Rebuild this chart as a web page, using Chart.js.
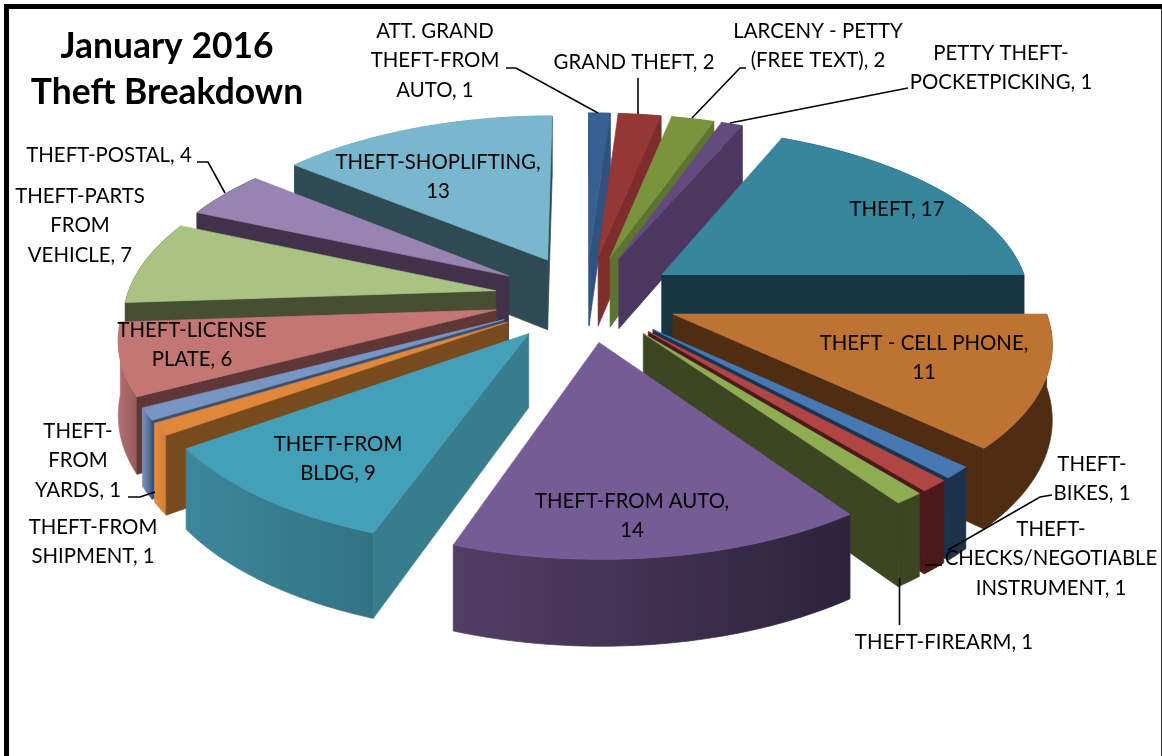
<!DOCTYPE html>
<html>
<head>
<meta charset="utf-8">
<title>January 2016 Theft Breakdown</title>
<script src="https://cdn.jsdelivr.net/npm/chart.js@4"></script>
<style>
  html, body { margin: 0; padding: 0; background: #fff; }
  canvas { display: block; }
</style>
</head>
<body>
<canvas id="theftChart" width="1162" height="756"></canvas>
<script>
const categories = [
  "ATT. GRAND THEFT-FROM AUTO", "GRAND THEFT", "LARCENY - PETTY (FREE TEXT)", "PETTY THEFT-POCKETPICKING",
  "THEFT", "THEFT - CELL PHONE", "THEFT-BIKES", "THEFT-CHECKS/NEGOTIABLE INSTRUMENT", "THEFT-FIREARM",
  "THEFT-FROM AUTO", "THEFT-FROM BLDG", "THEFT-FROM SHIPMENT", "THEFT-FROM YARDS", "THEFT-LICENSE PLATE",
  "THEFT-PARTS FROM VEHICLE", "THEFT-POSTAL", "THEFT-SHOPLIFTING"
];
const counts = [1, 2, 2, 1, 17, 11, 1, 1, 1, 14, 9, 1, 1, 6, 7, 4, 13];

// how each label wraps, the count goes on the end of the last line
const labelLines = [
  ["ATT. GRAND", "THEFT-FROM", "AUTO, "], ["GRAND THEFT, "], ["LARCENY - PETTY", "(FREE TEXT), "],
  ["PETTY THEFT-", "POCKETPICKING, "], ["THEFT, "], ["THEFT - CELL PHONE,", ""], ["THEFT-", "BIKES, "],
  ["THEFT-", "CHECKS/NEGOTIABLE", "INSTRUMENT, "], ["THEFT-FIREARM, "], ["THEFT-FROM AUTO,", ""],
  ["THEFT-FROM", "BLDG, "], ["THEFT-FROM", "SHIPMENT, "], ["THEFT-", "FROM", "YARDS, "],
  ["THEFT-LICENSE", "PLATE, "], ["THEFT-PARTS", "FROM", "VEHICLE, "], ["THEFT-POSTAL, "], ["THEFT-SHOPLIFTING,", ""]
];
const titleLines = ["January 2016", "Theft Breakdown"];

const topColors = ["#376092", "#953735", "#7a943e", "#644b7d", "#38859e", "#be7332", "#4678b4", "#b04644", "#8eac52",
  "#765c96", "#44a0b9", "#e1873c", "#7896c3", "#c37673", "#aac382", "#9884b2", "#78b7cd"];
const sideColors = ["#30527d", "#7d2d2b", "#5c7332", "#4b375f", "#163642", "#4e2d12", "#1c324b", "#4b1919", "#3c4620",
  "#3e3050", "#377d8c", "#784b1e", "#3c506e", "#5f3737", "#484e32", "#41324a", "#2f4a52"];
const rimLeft = ["#30527d", "#7d2d2b", "#5c7332", "#4b375f", "#163642", "#4e2d12", "#1c324b", "#4b1919", "#3c4620",
  "#523e66", "#3c879b", "#e68a3c", "#7894be", "#b47070", "#484e32", "#41324a", "#78b7cd"];
const rimRight = ["#30527d", "#7d2d2b", "#5c7332", "#4b375f", "#163642", "#4e2d12", "#1c324b", "#4b1919", "#3c4620",
  "#2d233c", "#327382", "#d27d37", "#465f82", "#965a5a", "#484e32", "#41324a", "#5a8ea0"];

// label placement: centre x, y of first line
const labelX = [435, 634, 818, 1001, 897, 924, 1092, 1051, 944, 632, 338, 93, 78, 192, 80, 109, 438];
const labelY = [31, 62, 31, 53, 209, 343, 464, 529, 642, 501, 444, 527, 431, 330, 196, 155, 162];
const leaderLines = [
  [[506, 68], [516, 68], [598, 113]],
  [[638, 78], [638, 114]],
  [[746, 68], [740, 68], [692, 118]],
  [[908, 88], [730, 123]],
  [[197, 162], [208, 162], [225, 193]],
  [[1052, 495], [1040, 497], [948, 550]],
  [[925, 565], [942, 565]],
  [[899.5, 578], [899.5, 625]],
  [[128, 497], [140, 497], [155, 492]]
];

// camera used to lay the pie on its side
const view = { cx: 586, cy: 298, sx: 369, sy: 173.5, persp: 0.1376, depth: 72 };

function project(u, v, z) {
  const w = 1 - view.persp * v;
  return [view.cx + view.sx * u / w, view.cy + (view.sy * v + view.depth * z) / w];
}

function fillPoly(ctx, pts, fill) {
  ctx.beginPath();
  pts.forEach((p, i) => i ? ctx.lineTo(p[0], p[1]) : ctx.moveTo(p[0], p[1]));
  ctx.closePath();
  ctx.fillStyle = fill;
  ctx.fill();
  // thin stroke in the same colour so no seam shows between faces
  ctx.strokeStyle = fill;
  ctx.lineWidth = 0.7;
  ctx.stroke();
}

function signedArea(pts) {
  let a = 0;
  pts.forEach((p, i) => {
    const q = pts[(i + 1) % pts.length];
    a += p[0] * q[1] - q[0] * p[1];
  });
  return a / 2;
}

const pie3d = {
  id: "pie3d",
  beforeDatasetsDraw(chart) {
    const ctx = chart.ctx;
    const arcs = chart.getDatasetMeta(0).data;
    const slices = arcs.map((arc, i) => {
      const mid = (arc.startAngle + arc.endAngle) / 2;
      const ex = arc.options.offset / arc.outerRadius;
      return { i, arc, ou: ex * Math.cos(mid), ov: ex * Math.sin(mid), depthKey: Math.sin(mid) };
    });
    slices.sort((a, b) => a.depthKey - b.depthKey);

    slices.forEach(s => {
      const steps = 48;
      const edge = z => {
        const pts = [];
        for (let k = 0; k <= steps; k++) {
          const a = s.arc.startAngle + (s.arc.endAngle - s.arc.startAngle) * k / steps;
          pts.push(project(s.ou + Math.cos(a), s.ov + Math.sin(a), z));
        }
        return pts;
      };
      const top = edge(0), bottom = edge(1);
      const apexTop = project(s.ou, s.ov, 0), apexBottom = project(s.ou, s.ov, 1);

      // outer rim first, the radial walls and the top go over it
      const xs = top.concat(bottom).map(p => p[0]);
      const grad = ctx.createLinearGradient(Math.min(...xs), 0, Math.max(...xs), 0);
      grad.addColorStop(0, rimLeft[s.i]);
      grad.addColorStop(1, rimRight[s.i]);
      fillPoly(ctx, top.concat(bottom.slice().reverse()), grad);

      const wallA = [apexTop, top[0], bottom[0], apexBottom];
      const wallB = [top[steps], apexTop, apexBottom, bottom[steps]];
      [wallA, wallB].forEach(w => {
        if (signedArea(w) < 0) fillPoly(ctx, w, sideColors[s.i]);
      });
      fillPoly(ctx, [apexTop].concat(top), s.arc.options.backgroundColor);
    });
    return false; // the flat arcs are replaced by the projected ones
  },
  afterDraw(chart) {
    const ctx = chart.ctx;
    // frame
    ctx.fillStyle = "#000";
    ctx.fillRect(4, 4, 1158, 5);
    ctx.fillRect(4, 4, 5, 752);
    ctx.fillStyle = "#333";
    ctx.fillRect(1161, 9, 1, 747);

    ctx.strokeStyle = "#000";
    ctx.lineWidth = 1.6;
    leaderLines.forEach(line => {
      ctx.beginPath();
      line.forEach((p, i) => i ? ctx.lineTo(p[0], p[1]) : ctx.moveTo(p[0], p[1]));
      ctx.stroke();
    });

    ctx.fillStyle = "#000";
    ctx.textAlign = "center";
    ctx.textBaseline = "middle";
    ctx.font = "20.4px Lato";
    labelLines.forEach((lines, i) => {
      lines.forEach((line, j) => {
        const text = j === lines.length - 1 ? line + counts[i] : line;
        ctx.fillText(text, labelX[i], labelY[i] + j * 29.5);
      });
    });
    ctx.font = "bold 35.4px Lato";
    titleLines.forEach((line, j) => ctx.fillText(line, 167, 47 + j * 46));
  }
};

new Chart(document.getElementById("theftChart"), {
  type: "pie",
  data: {
    labels: categories,
    datasets: [{
      data: counts,
      backgroundColor: topColors,
      borderWidth: 0,
      offset: 84
    }]
  },
  options: {
    responsive: false,
    animation: false,
    layout: { padding: 0 },
    plugins: { legend: { display: false }, tooltip: { enabled: false } }
  },
  plugins: [pie3d]
});
</script>
</body>
</html>
